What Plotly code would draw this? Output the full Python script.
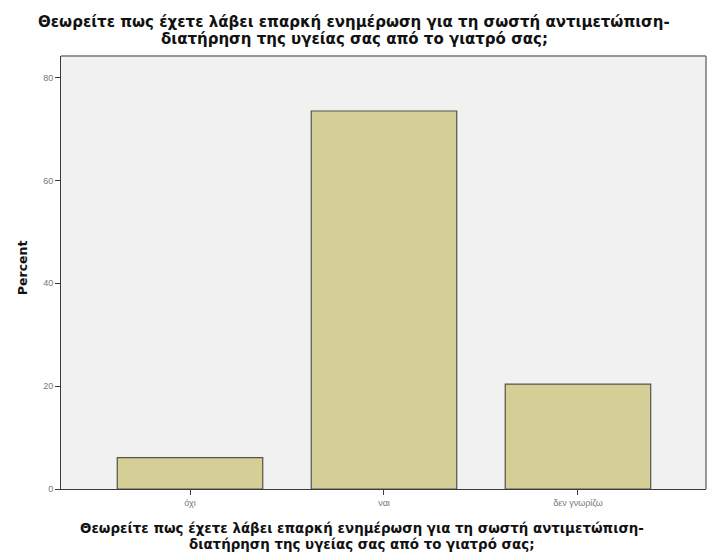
import plotly.graph_objects as go

TITLE_LINES = [
    "Θεωρείτε πως έχετε λάβει επαρκή ενημέρωση για τη σωστή αντιμετώπιση-",
    "διατήρηση της υγείας σας από το γιατρό σας;",
]
CATEGORIES = ["όχι", "ναι", "δεν γνωρίζω"]
PERCENTS = [6.1, 73.5, 20.4]
Y_TICKS = [0, 20, 40, 60, 80]

BAR_FILL = "#d4cf96"
BAR_LINE = "#555547"
AXIS = "#3c3c3c"
PLOT_BG = "#f1f1f1"
FONT = "Liberation Sans, Arial, sans-serif"
TITLE_FONT = "DejaVu Sans, sans-serif"

fig = go.Figure(
    go.Bar(
        x=CATEGORIES,
        y=PERCENTS,
        marker=dict(color=BAR_FILL, line=dict(color=BAR_LINE, width=1.2)),
        width=0.75,
    )
)

fig.update_layout(
    width=708,
    height=559,
    margin=dict(l=61, r=2, t=56, b=70, autoexpand=False),
    paper_bgcolor="white",
    plot_bgcolor=PLOT_BG,
    font=dict(family=FONT, color="#222"),
    showlegend=False,
)

# top title, two lines set tight like the SPSS output
for line, shift in zip(TITLE_LINES, [34, 17]):
    fig.add_annotation(
        text=line, xref="paper", yref="paper", x=0.455, y=1.0, yshift=shift,
        xanchor="center", yanchor="middle", showarrow=False,
        font=dict(family=TITLE_FONT, size=15, color="#111", weight="bold"),
    )
# x axis title
for line, shift in zip(TITLE_LINES, [-39, -55]):
    fig.add_annotation(
        text=line, xref="paper", yref="paper", x=0.466, y=0, yshift=shift,
        xanchor="center", yanchor="middle", showarrow=False,
        font=dict(family=TITLE_FONT, size=13.4, color="#111", weight="bold"),
    )
# y axis title
fig.add_annotation(
    text="Percent", xref="paper", yref="paper", x=0, xshift=-39, y=0.51,
    xanchor="center", yanchor="middle", showarrow=False, textangle=-90,
    font=dict(family=TITLE_FONT, size=12.5, color="#111", weight="bold"),
)

fig.update_xaxes(
    range=[-0.665, 2.66],
    automargin=False,
    showgrid=False,
    showline=True,
    linecolor=AXIS,
    linewidth=1,
    ticks="outside",
    ticklen=5,
    tickcolor=AXIS,
    tickfont=dict(size=9, color="#777"),
)
fig.update_yaxes(
    range=[0, 84.2],
    automargin=False,
    tickvals=Y_TICKS,
    showgrid=False,
    zeroline=False,
    showline=True,
    linecolor=AXIS,
    linewidth=1,
    ticks="outside",
    ticklen=5,
    tickcolor=AXIS,
    tickfont=dict(size=9, color="#777"),
)

# lighter frame on top and right like the original
fig.add_shape(type="line", xref="paper", yref="paper", x0=0, x1=1, y0=1, y1=1,
              line=dict(color="#777", width=1.5))
fig.add_shape(type="line", xref="paper", yref="paper", x0=1, x1=1, y0=0, y1=1,
              line=dict(color="#777", width=1.5))

fig.write_html(
    "out.html",
    config={"displayModeBar": False},
    post_script="document.body.style.margin='0';",
)
